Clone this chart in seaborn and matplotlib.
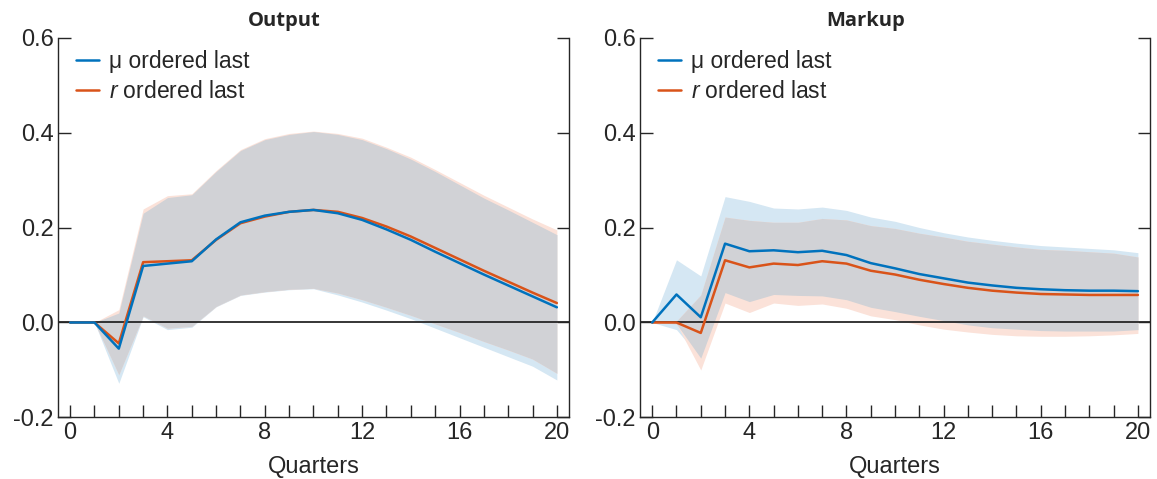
import numpy as np
import pandas as pd
import matplotlib
matplotlib.use("Agg")
import matplotlib.pyplot as plt
from matplotlib.ticker import MultipleLocator, FixedLocator
import seaborn as sns

# ── Data ─────────────────────────────────────────────────────────────────────
quarters = list(range(21))

# Output
out_mu = [0, 0, -0.055, 0.119, 0.124, 0.129, 0.175, 0.211, 0.225, 0.233, 0.237,
          0.230, 0.216, 0.196, 0.174, 0.149, 0.125, 0.101, 0.078, 0.055, 0.032]
out_r = [0, 0, -0.044, 0.127, 0.129, 0.131, 0.174, 0.209, 0.223, 0.233, 0.237,
         0.233, 0.220, 0.202, 0.181, 0.157, 0.133, 0.109, 0.086, 0.063, 0.041]
out_mu_hi = [0, 0, 0.020, 0.230, 0.263, 0.269, 0.318, 0.362, 0.385, 0.396, 0.402,
             0.396, 0.385, 0.366, 0.344, 0.318, 0.290, 0.262, 0.237, 0.211, 0.185]
out_mu_lo = [0, 0, -0.128, 0.012, -0.015, -0.010, 0.033, 0.057, 0.064, 0.069, 0.071,
             0.058, 0.043, 0.026, 0.008, -0.012, -0.032, -0.052, -0.072, -0.092, -0.121]
out_r_hi = [0, 0, 0.027, 0.239, 0.267, 0.271, 0.320, 0.364, 0.387, 0.398, 0.403,
            0.398, 0.388, 0.369, 0.348, 0.322, 0.295, 0.268, 0.243, 0.218, 0.195]
out_r_lo = [0, 0, -0.110, 0.014, -0.012, -0.008, 0.034, 0.058, 0.065, 0.070, 0.072,
            0.062, 0.048, 0.032, 0.015, -0.003, -0.021, -0.040, -0.058, -0.077, -0.107]

# Markup
mk_mu = [0, 0.059, 0.011, 0.166, 0.150, 0.152, 0.148, 0.151, 0.142, 0.125, 0.114,
         0.102, 0.093, 0.084, 0.078, 0.073, 0.070, 0.068, 0.067, 0.067, 0.066]
mk_r = [0, 0, -0.022, 0.131, 0.116, 0.124, 0.121, 0.129, 0.124, 0.109, 0.101,
        0.090, 0.081, 0.073, 0.067, 0.063, 0.060, 0.059, 0.058, 0.058, 0.058]
mk_mu_hi = [0, 0.132, 0.098, 0.265, 0.255, 0.241, 0.239, 0.243, 0.236, 0.222, 0.213,
            0.200, 0.189, 0.180, 0.173, 0.167, 0.162, 0.159, 0.156, 0.153, 0.147]
mk_mu_lo = [0, -0.015, -0.075, 0.063, 0.044, 0.059, 0.057, 0.056, 0.048, 0.032, 0.023,
            0.013, 0.004, -0.005, -0.011, -0.014, -0.017, -0.018, -0.018, -0.018, -0.015]
mk_r_hi = [0, 0.003, 0.058, 0.222, 0.215, 0.211, 0.211, 0.219, 0.216, 0.204, 0.198,
           0.188, 0.180, 0.171, 0.165, 0.159, 0.154, 0.152, 0.149, 0.146, 0.138]
mk_r_lo = [0, -0.003, -0.100, 0.041, 0.021, 0.041, 0.036, 0.039, 0.030, 0.014, 0.006,
           -0.005, -0.014, -0.020, -0.025, -0.028, -0.029, -0.029, -0.028, -0.026, -0.023]

panel_titles = ["Output", "Markup"]
series_labels = ["\u03bc ordered last", r"$\mathit{r}$ ordered last"]
y_ticks = [-0.2, 0.0, 0.2, 0.4, 0.6]
y_ticklabels = ["-0.2", "0.0", "0.2", "0.4", "0.6"]

# ── Style ────────────────────────────────────────────────────────────────────
BLUE, ORANGE = "#0072BD", "#D95319"
BLUE_BAND, ORANGE_BAND, OVERLAP = "#D5E7F3", "#FBE2D9", "#D1D2D6"

sns.set_style("ticks")
plt.rcParams["font.family"] = ["Liberation Sans", "DejaVu Sans"]
plt.rcParams["mathtext.fontset"] = "custom"
plt.rcParams["mathtext.it"] = "Liberation Sans:italic"
plt.rcParams["mathtext.rm"] = "Liberation Sans"
plt.rcParams["axes.unicode_minus"] = False

fig = plt.figure(figsize=(11.57, 4.79), dpi=100)
axes = [fig.add_axes([0.0501, 0.1284, 0.4417, 0.7933]),
        fig.add_axes([0.5532, 0.1284, 0.4408, 0.7933])]

panels = [
    (out_mu, out_r, out_mu_lo, out_mu_hi, out_r_lo, out_r_hi),
    (mk_mu, mk_r, mk_mu_lo, mk_mu_hi, mk_r_lo, mk_r_hi),
]

for ax, title, (mu, r, mu_lo, mu_hi, r_lo, r_hi) in zip(axes, panel_titles, panels):
    q = np.array(quarters)
    ax.fill_between(q, mu_lo, mu_hi, color=BLUE_BAND, lw=0)
    ax.fill_between(q, r_lo, r_hi, color=ORANGE_BAND, lw=0)
    lo = np.maximum(mu_lo, r_lo)
    hi = np.minimum(mu_hi, r_hi)
    ax.fill_between(q, lo, hi, where=hi >= lo, interpolate=True, color=OVERLAP, lw=0)
    ax.axhline(0, color="#262626", lw=1.3, zorder=2)

    df = pd.DataFrame({
        "Quarters": quarters * 2,
        "value": r + mu,
        "series": [series_labels[1]] * len(r) + [series_labels[0]] * len(mu),
    })
    sns.lineplot(data=df, x="Quarters", y="value", hue="series",
                 hue_order=[series_labels[1], series_labels[0]],
                 palette=[ORANGE, BLUE], linewidth=1.8, ax=ax, zorder=3)

    handles, labels = ax.get_legend_handles_labels()
    order = [labels.index(series_labels[0]), labels.index(series_labels[1])]
    ax.legend([handles[i] for i in order], [labels[i] for i in order],
              loc="upper left", frameon=False, fontsize=16.5,
              handlelength=1.0, handletextpad=0.45, labelspacing=0.3,
              borderaxespad=0.15, bbox_to_anchor=(0.01, 1.0))

    ax.set_xlim(-0.5, 20.5)
    ax.set_ylim(-0.2, 0.6)
    ax.xaxis.set_major_locator(MultipleLocator(4))
    ax.xaxis.set_minor_locator(MultipleLocator(1))
    ax.yaxis.set_major_locator(FixedLocator(y_ticks))
    ax.set_yticklabels(y_ticklabels)
    ax.tick_params(axis="x", which="both", direction="in", length=9, width=1,
                   color="#262626", labelsize=17, pad=3, top=False)
    ax.tick_params(axis="y", which="both", direction="in", length=9, width=1,
                   color="#262626", labelsize=17, pad=3, left=True, right=True)
    ax.spines["top"].set_visible(False)
    for s in ["left", "right", "bottom"]:
        ax.spines[s].set_visible(True)
        ax.spines[s].set_color("#262626")
        ax.spines[s].set_linewidth(1.0)
    ax.set_xlabel("Quarters", fontsize=17, labelpad=9)
    ax.set_ylabel("")
    ax.set_title(title, fontsize=14.5, fontweight="bold", pad=8, x=0.443,
                 family=["Open Sans", "DejaVu Sans"])

fig.savefig("out.png", dpi=100)
